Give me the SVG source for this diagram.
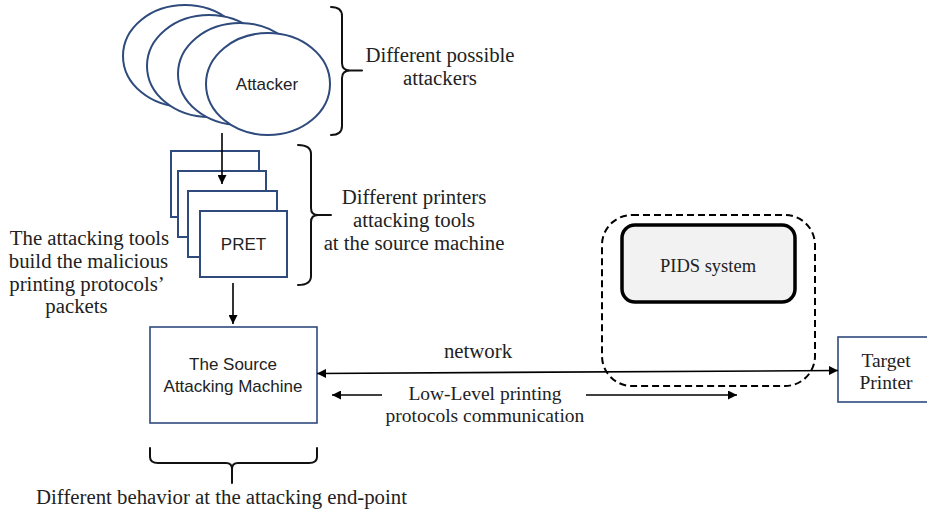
<svg xmlns="http://www.w3.org/2000/svg" width="927" height="517" viewBox="0 0 927 517">
  <defs>
    <style>
      .serif { font-family: "Liberation Serif", "Times New Roman", serif; font-size: 20.8px; fill: #222; }
      .tight { font-size: 19.5px; }
      .sans { font-family: "Liberation Sans", Arial, sans-serif; font-size: 17px; fill: #222; }
      .blue { fill: #fff; stroke: #2f4a7c; stroke-width: 2; }
      .conn { fill: none; stroke: #000; stroke-width: 1.6; }
      .brace { fill: none; stroke: #111; stroke-width: 2; stroke-linecap: round; stroke-linejoin: round; }
      .mid { text-anchor: middle; }
    </style>
    <marker id="arrow" viewBox="0 0 10 10" refX="10" refY="5" markerWidth="11" markerHeight="9" markerUnits="userSpaceOnUse" orient="auto-start-reverse">
      <path d="M0,0 L10,5 L0,10 Z" fill="#000"/>
    </marker>
  </defs>
  <rect width="927" height="517" fill="#fff"/>

  <g id="attackers">
    <ellipse class="blue" cx="185" cy="56" rx="62" ry="51"/>
    <ellipse class="blue" cx="209" cy="66" rx="62" ry="51"/>
    <ellipse class="blue" cx="240" cy="74" rx="62" ry="51"/>
    <ellipse class="blue" cx="268" cy="84" rx="62" ry="51"/>
    <text class="sans mid" x="267" y="89.5">Attacker</text>
  </g>

  <g id="tools">
    <rect class="blue" x="171" y="151" width="88" height="66"/>
    <rect class="blue" x="178" y="171" width="88" height="66"/>
    <rect class="blue" x="188" y="191" width="89" height="66"/>
    <rect class="blue" x="200" y="211" width="87" height="66"/>
    <text class="sans mid" x="243.5" y="249.5">PRET</text>
  </g>

  <g id="source">
    <rect class="blue" x="150" y="327" width="167" height="96" style="stroke-width:1.6"/>
    <text class="sans mid" x="233" y="369.5">The Source</text>
    <text class="sans mid" x="233" y="392">Attacking Machine</text>
  </g>

  <g id="pids-boundary">
    <rect x="602" y="215" width="213" height="171" rx="30" ry="30" fill="none" stroke="#000" stroke-width="2" stroke-dasharray="7,4"/>
  </g>

  <g id="pids">
    <rect x="622" y="225" width="173" height="77" rx="13" ry="13" fill="#f2f2f2" stroke="#000" stroke-width="3.5"/>
    <text class="serif mid" x="708" y="272" style="font-size:18.5px">PIDS system</text>
  </g>

  <g id="target">
    <rect class="blue" x="838" y="337" width="98" height="65" style="stroke-width:1.6"/>
    <text class="serif tight mid" x="886" y="367">Target</text>
    <text class="serif tight mid" x="886" y="389">Printer</text>
  </g>

  <g id="braces">
    <path class="brace" d="M331,7 Q342,7 342,16 L342,63 Q342,70.5 350,70.5 L362,70.5 M350,70.5 Q342,70.5 342,78 L342,126 Q342,135 331,135"/>
    <path class="brace" d="M298,145 Q311,145 311,154 L311,208 Q311,215 318,215 L331,215 M318,215 Q311,215 311,222 L311,276 Q311,285 298,285"/>
    <path class="brace" d="M150,448 L150,457 Q150,463 158,463 L226,463 Q232,463 232,469 L232,483 M232,469 Q232,463 238,463 L309,463 Q317,463 317,457 L317,448"/>
  </g>

  <g id="labels">
    <text class="serif mid" x="440" y="62">Different possible</text>
    <text class="serif mid" x="440" y="85">attackers</text>
    <text class="serif mid" x="414" y="204">Different printers</text>
    <text class="serif mid" x="414" y="227">attacking tools</text>
    <text class="serif mid" x="414" y="250">at the source machine</text>
    <text class="serif mid" x="89.5" y="245">The attacking tools</text>
    <text class="serif mid" x="88.5" y="268">build the malicious</text>
    <text class="serif mid" x="87" y="291">printing protocols’</text>
    <text class="serif mid" x="76.5" y="313">packets</text>
    <text class="serif mid" x="478" y="358">network</text>
    <text class="serif tight mid" x="485" y="399.5">Low-Level printing</text>
    <text class="serif tight mid" x="485" y="421.5">protocols communication</text>
    <text class="serif mid" x="221.5" y="504">Different behavior at the attacking end-point</text>
  </g>

  <g id="connectors">
    <line class="conn" x1="222" y1="133" x2="222" y2="184" marker-end="url(#arrow)"/>
    <line class="conn" x1="233" y1="283" x2="233" y2="324" marker-end="url(#arrow)"/>
    <line class="conn" x1="317" y1="373.5" x2="838" y2="370.5" marker-start="url(#arrow)" marker-end="url(#arrow)"/>
    <line class="conn" x1="382" y1="395" x2="332" y2="395" marker-end="url(#arrow)"/>
    <line class="conn" x1="586" y1="395" x2="737" y2="395" marker-end="url(#arrow)"/>
  </g>
</svg>
